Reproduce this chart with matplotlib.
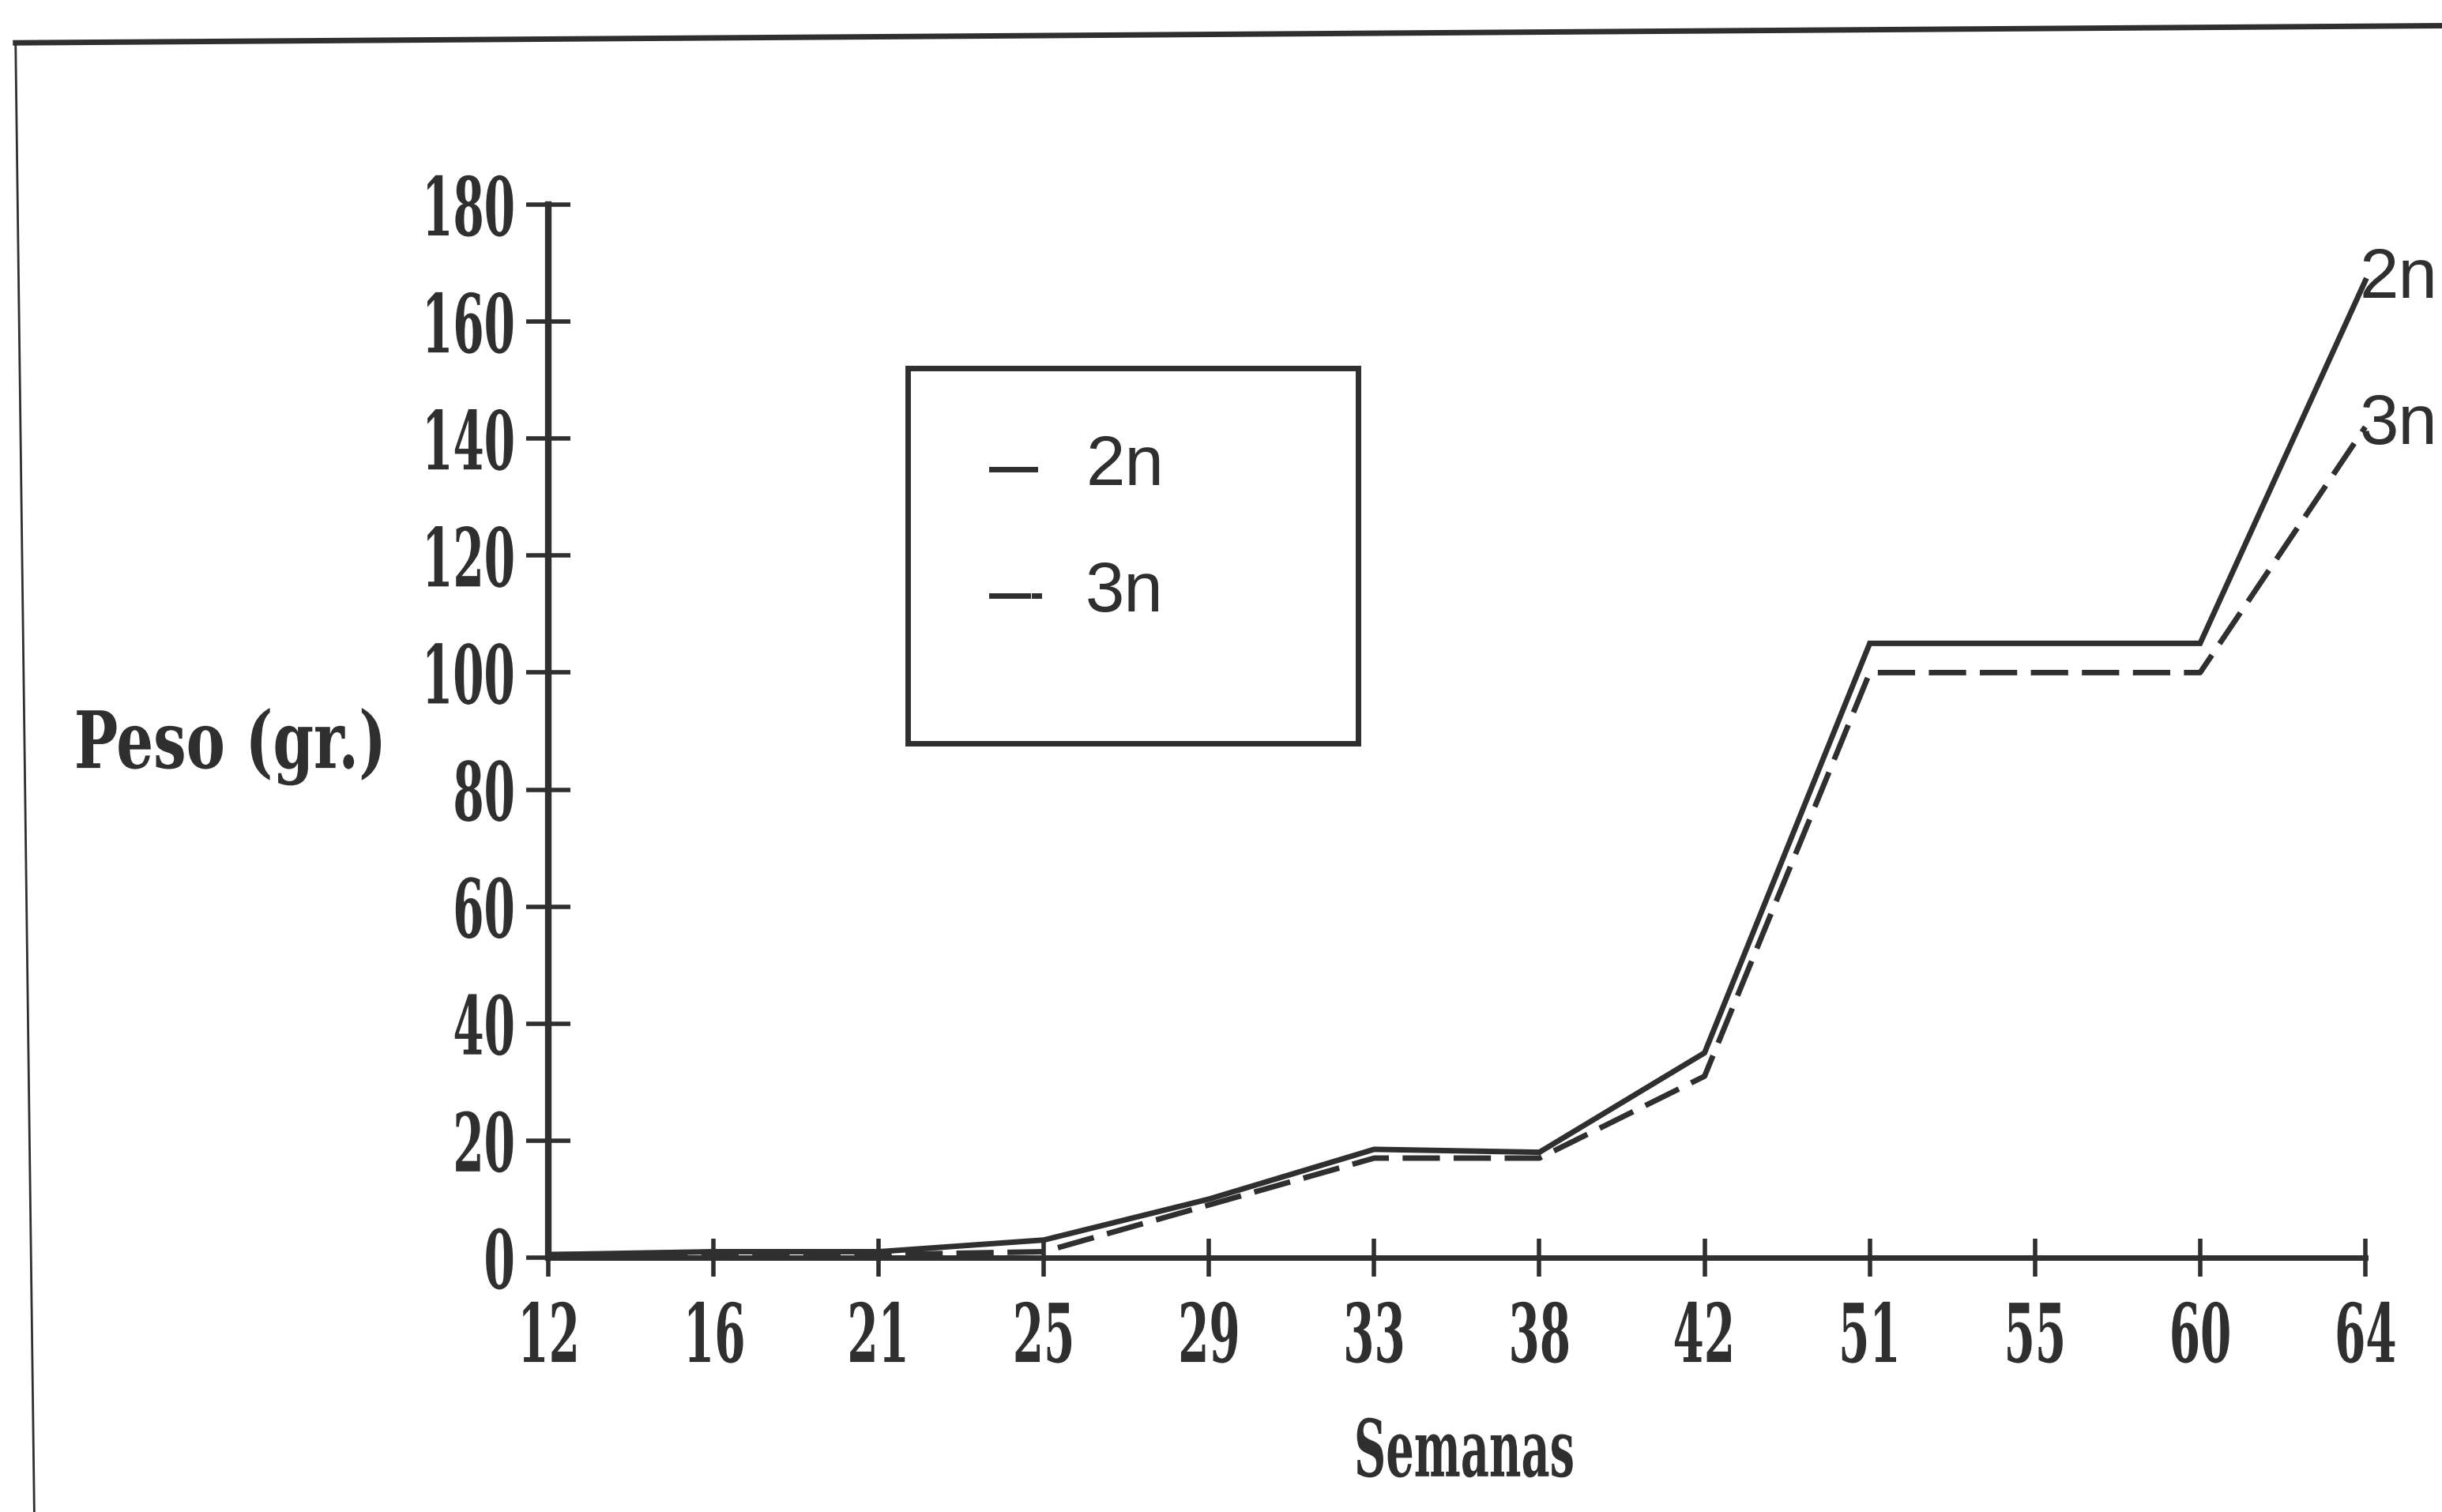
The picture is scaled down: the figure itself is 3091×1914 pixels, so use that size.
import matplotlib
matplotlib.use("Agg")
import matplotlib.pyplot as plt
from matplotlib.lines import Line2D
from matplotlib.patches import Rectangle
from matplotlib.patheffects import AbstractPathEffect
from matplotlib.transforms import Affine2D

# Weekly weight data for diploid (2n) and triploid (3n) groups
semanas = ["12", "16", "21", "25", "29", "33", "38", "42", "51", "55", "60", "64"]
peso_2n = [0.5, 1, 1, 3, 10, 18.5, 18, 35, 105, 105, 105, 167]
peso_3n = [0.5, 0.5, 0.5, 1, 9, 17, 17, 31, 100, 100, 100, 142]
y_ticks = [0, 20, 40, 60, 80, 100, 120, 140, 160, 180]

INK = "#2f2f2f"
SERIF = dict(family="DejaVu Serif", weight="bold", stretch="condensed")
SANS = ["Liberation Sans", "DejaVu Sans"]


class Squeeze(AbstractPathEffect):
    """Draw text glyphs narrowed horizontally around an anchor of their ink box."""

    def __init__(self, sx, anchor=0.5):
        super().__init__()
        self.sx = sx
        self.anchor = anchor

    def draw_path(self, renderer, gc, tpath, affine, rgbFace=None):
        ext = tpath.get_extents()
        cx = ext.x0 + self.anchor * ext.width
        local = Affine2D().translate(-cx, 0).scale(self.sx, 1).translate(cx, 0)
        renderer.draw_path(gc, tpath, local + affine, rgbFace)


fig = plt.figure(figsize=(30.91, 19.15), dpi=100, facecolor="white")
ax = fig.add_axes([0.2245, 0.1682, 0.9686 - 0.2245, 0.8642 - 0.1682])
ax.set_facecolor("none")

x = list(range(len(semanas)))
ax.plot(x, peso_2n, color=INK, lw=5, solid_joinstyle="miter", clip_on=False)
ax.plot(x, peso_3n, color=INK, lw=5, linestyle=(0, (6.8, 2.5)), clip_on=False)

ax.set_xlim(0, len(semanas) - 1)
ax.set_ylim(0, 180)
ax.set_xticks(x)
ax.set_xticklabels(semanas)
ax.set_yticks(y_ticks)

for side in ("top", "right"):
    ax.spines[side].set_visible(False)
ax.spines["left"].set_linewidth(6)
ax.spines["bottom"].set_linewidth(5)
ax.spines["left"].set_color(INK)
ax.spines["bottom"].set_color(INK)

ax.tick_params(axis="y", direction="inout", length=40, width=4, color=INK,
               pad=9, labelsize=74, labelcolor=INK)
ax.tick_params(axis="x", direction="inout", length=34, width=4, color=INK,
               pad=22, labelsize=74, labelcolor=INK)
for lab in ax.get_yticklabels():
    lab.set(**SERIF)
    lab.set_path_effects([Squeeze(0.61, anchor=1.0)])
for lab in ax.get_xticklabels():
    lab.set(**SERIF)
    lab.set_path_effects([Squeeze(0.61, anchor=0.5)])

ylab = ax.set_ylabel("Peso (gr.)", rotation=0, fontsize=72, color=INK,
                     ha="center", va="baseline", **SERIF)
ylab.set_path_effects([Squeeze(0.82, anchor=0.5)])
ax.yaxis.set_label_coords(-0.1748, 0.465)
xlab = ax.set_xlabel("Semanas", fontsize=72, color=INK,
                     ha="center", va="baseline", **SERIF)
xlab.set_path_effects([Squeeze(0.62, anchor=0.5)])
ax.xaxis.set_label_coords(0.504, -0.2078)

# End-of-line series labels
ax.annotate("2n", (x[-1], peso_2n[-1]), xytext=(-5, 2), textcoords="offset points",
            ha="left", va="center", fontsize=64, family=SANS, color=INK,
            annotation_clip=False)
ax.annotate("3n", (x[-1], peso_3n[-1]), xytext=(-5, 2), textcoords="offset points",
            ha="left", va="center", fontsize=64, family=SANS, color=INK,
            annotation_clip=False)

# Key box
tr = ax.transAxes
ax.add_patch(Rectangle((0.198, 0.4884), 0.4457 - 0.198, 0.8447 - 0.4884,
                       transform=tr, fill=False, ec=INK, lw=5, clip_on=False))
ax.add_line(Line2D([0.244, 0.268], [0.749, 0.749], transform=tr, color=INK,
                   lw=5, clip_on=False))
ax.add_line(Line2D([0.244, 0.264], [0.629, 0.629], transform=tr, color=INK,
                   lw=5, clip_on=False))
ax.add_line(Line2D([0.2675, 0.270], [0.629, 0.629], transform=tr, color=INK,
                   lw=5, clip_on=False))
ax.text(0.2957, 0.752, "2n", transform=tr, ha="left", va="center",
        fontsize=64, family=SANS, color=INK)
ax.text(0.2957, 0.632, "3n", transform=tr, ha="left", va="center",
        fontsize=64, family=SANS, color=INK)

# Page frame
W, H = 1568.0, 971.0
fig.add_artist(Line2D([10 / W, 1.0], [1 - 28 / H, 1 - 17 / H], transform=fig.transFigure,
                      color=INK, lw=5))
fig.add_artist(Line2D([10 / W, 22 / W], [1 - 28 / H, 0.0], transform=fig.transFigure,
                      color=INK, lw=2))

fig.savefig("out.png", dpi=100, facecolor="white")
